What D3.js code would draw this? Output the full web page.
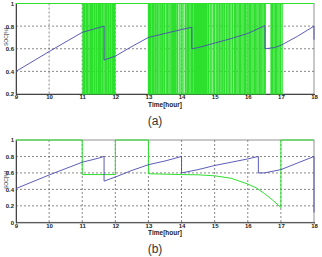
<!DOCTYPE html>
<html>
<head>
<meta charset="utf-8">
<script src="https://cdn.jsdelivr.net/npm/d3@7"></script>
<style>
  body { margin: 0; background: #fff; }
  svg { display: block; }
  .tick text { font-family: Arial, "Liberation Sans", sans-serif; font-weight: bold; font-size: 6px; fill: #222; }
</style>
</head>
<body>
<svg id="chart" width="322" height="257"></svg>
<script>
// hours on the x axis
const hourTicks = [9, 10, 11, 12, 13, 14, 15, 16, 17, 18];
const socTicksA = [0.2, 0.4, 0.6, 0.8, 1];
const socTicksB = [0, 0.2, 0.4, 0.6, 0.8, 1];

// (a) SOC of the battery
const socA = [
    [9, 0.40], [10, 0.575], [11, 0.745], [11.3, 0.77], [11.66, 0.80], [11.66, 0.50],
    [12, 0.535], [12.5, 0.62], [13, 0.70], [13.5, 0.735], [14, 0.77], [14.31, 0.79],
    [14.31, 0.60], [14.5, 0.61], [15, 0.65], [15.5, 0.69], [16, 0.735], [16.52, 0.805],
    [16.52, 0.60], [16.8, 0.61], [17, 0.63], [17.5, 0.71], [18, 0.80], [18, 0.68]
];

// (a) switching instants of the charge signal (toggles between 1 and 0.2)
const switchA1 = [11.02, 11.05, 11.08, 11.12, 11.15, 11.17, 11.21, 11.25, 11.28, 11.31,
    11.35, 11.38, 11.42, 11.45, 11.49, 11.52, 11.55, 11.59, 11.62, 11.66,
    11.70, 11.73, 11.77, 11.80, 11.84, 11.87, 11.91, 11.94, 11.97, 11.99];
const switchA2 = [13.00, 13.03, 13.06, 13.08, 13.12, 13.15, 13.19, 13.21, 13.25, 13.28,
    13.32, 13.36, 13.40, 13.43, 13.47, 13.50, 13.55, 13.58, 13.62, 13.66,
    13.70, 13.73, 13.75, 13.76, 13.78, 13.80, 13.82, 13.84, 13.88, 13.93,
    13.98, 14.02, 14.07, 14.12, 14.16, 14.19];
const switchA3 = [14.22, 14.26, 14.30, 14.33, 14.37, 14.40, 14.42, 14.45, 14.47, 14.50,
    14.52, 14.55, 14.57, 14.60, 14.62, 14.65, 14.67, 14.70, 14.73, 14.76,
    14.80, 14.83, 14.88, 14.92, 14.97, 15.00, 15.05, 15.09, 15.13, 15.16,
    15.20, 15.24, 15.28, 15.31, 15.36, 15.40, 15.44, 15.47, 15.52, 15.55,
    15.60, 15.63, 15.67, 15.71, 15.75, 15.78, 15.82, 15.86, 15.90, 15.93,
    15.97, 16.01, 16.05, 16.08, 16.12, 16.16, 16.20, 16.23, 16.27, 16.31,
    16.35, 16.38, 16.42, 16.46, 16.50, 16.53];
const switchA4 = [16.70, 16.73, 16.76, 16.80, 16.84, 16.87, 16.91, 16.95, 16.99, 17.04];

// (b) SOC of the battery
const socB = [
    [9, 0.41], [10, 0.575], [11, 0.73], [11.5, 0.78], [11.66, 0.80], [11.66, 0.50],
    [12, 0.55], [12.5, 0.63], [13, 0.70], [13.5, 0.745], [14, 0.80], [14, 0.60],
    [14.5, 0.64], [15, 0.69], [15.5, 0.73], [16, 0.77], [16.32, 0.80], [16.32, 0.60],
    [16.5, 0.60], [17, 0.64], [17.5, 0.72], [18, 0.80], [18, 0.12]
];

// (b) charge signal
const signalB = [
    [9, 1], [11, 1], [11, 0.58], [12, 0.58], [12, 1], [13, 1], [13, 0.59],
    [14, 0.58], [14.5, 0.577], [15, 0.565], [15.5, 0.535], [16, 0.465],
    [16.25, 0.42], [16.5, 0.35], [16.75, 0.27], [17, 0.18], [17, 1], [18, 1]
];

const svg = d3.select('#chart');
const blue = '#4a4ab0';
const green = '#2ee02e';

function panel(top, bottom, yDomain, yTicks, labelY, caption, captionY) {
    const x = d3.scaleLinear().domain([9, 18]).range([16, 314]);
    const y = d3.scaleLinear().domain(yDomain).range([bottom, top]);
    const g = svg.append('g');

    // grid
    g.append('g').selectAll('line.v')
        .data(hourTicks.slice(1, -1))
        .enter().append('line')
        .attr('x1', d => x(d)).attr('x2', d => x(d))
        .attr('y1', top).attr('y2', bottom)
        .attr('stroke', '#555').attr('stroke-width', 0.7).attr('stroke-dasharray', '2,2');
    g.append('g').selectAll('line.h')
        .data(yTicks.slice(1, -1))
        .enter().append('line')
        .attr('x1', 16).attr('x2', 314)
        .attr('y1', d => y(d)).attr('y2', d => y(d))
        .attr('stroke', '#555').attr('stroke-width', 0.7).attr('stroke-dasharray', '2,2');

    g.append('rect')
        .attr('x', 16).attr('y', top).attr('width', 298).attr('height', bottom - top)
        .attr('fill', 'none').attr('stroke', '#777').attr('stroke-width', 0.8);

    g.append('g')
        .attr('transform', `translate(0,${bottom})`)
        .call(d3.axisBottom(x).tickValues(hourTicks).tickSize(1).tickPadding(0).tickFormat(d3.format('d')))
        .call(a => a.select('.domain').attr('stroke', '#444'))
        .call(a => a.selectAll('.tick line').attr('stroke', '#444'));
    g.append('g')
        .attr('transform', 'translate(16,0)')
        .call(d3.axisLeft(y).tickValues(yTicks).tickSize(0).tickPadding(2).tickFormat(d => d === 0 || d === 1 ? d : d.toFixed(1)))
        .call(a => a.select('.domain').attr('stroke', '#444'));

    g.append('text')
        .attr('x', 165).attr('y', bottom + 12.5)
        .attr('text-anchor', 'middle')
        .attr('font-family', 'Arial, sans-serif').attr('font-weight', 'bold').attr('font-size', 6.5)
        .attr('fill', '#222')
        .text('Time[hour]');
    g.append('text')
        .attr('transform', `translate(8,${labelY}) rotate(-90)`)
        .attr('text-anchor', 'middle')
        .attr('font-family', 'Arial, sans-serif').attr('font-size', 5)
        .attr('fill', '#333')
        .text('SOC[%]');
    svg.append('text')
        .attr('x', 155).attr('y', captionY)
        .attr('text-anchor', 'middle')
        .attr('font-family', 'Arial, "Liberation Sans", sans-serif').attr('font-size', 12)
        .attr('fill', '#333')
        .text(caption);

    return { x, y, g };
}

// ---- (a)
const pa = panel(3.5, 94, [0.2, 1], socTicksA, 37, '(a)', 125);
const steps = [[9, 1]];
[switchA1, switchA2, switchA3, switchA4].forEach(arr => {
    arr.forEach((t, i) => steps.push([t, i % 2 === 0 ? 0.2 : 1]));
});
steps.push([18, 1]);
const stepLine = d3.line().x(d => pa.x(d[0])).y(d => pa.y(d[1])).curve(d3.curveStepAfter);
pa.g.append('path').attr('d', stepLine(steps))
    .attr('fill', 'none').attr('stroke', green).attr('stroke-width', 1.15);
const lineA = d3.line().x(d => pa.x(d[0])).y(d => pa.y(d[1]));
pa.g.append('path').attr('d', lineA(socA))
    .attr('fill', 'none').attr('stroke', blue).attr('stroke-width', 0.9);

// ---- (b)
const pb = panel(140, 222.3, [0, 1], socTicksB, 180, '(b)', 253);
const lineB = d3.line().x(d => pb.x(d[0])).y(d => pb.y(d[1]));
pb.g.append('path').attr('d', lineB(signalB))
    .attr('fill', 'none').attr('stroke', green).attr('stroke-width', 1);
pb.g.append('path').attr('d', lineB(socB))
    .attr('fill', 'none').attr('stroke', blue).attr('stroke-width', 0.9);
</script>
</body>
</html>
